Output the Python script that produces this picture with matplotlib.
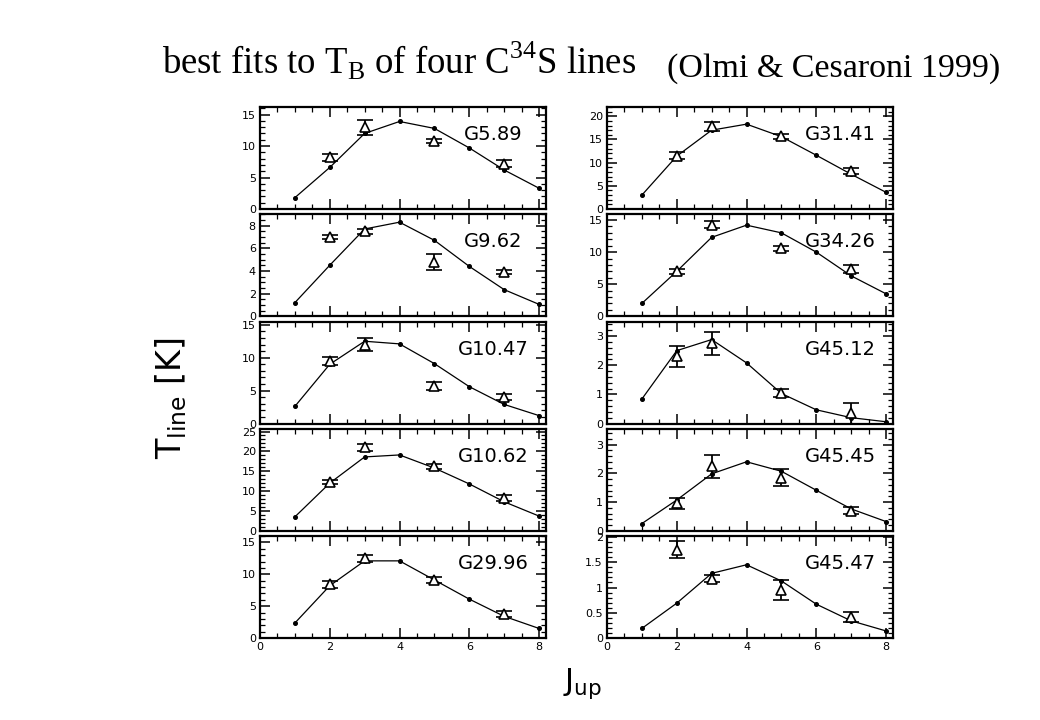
import matplotlib
matplotlib.use('Agg')
import matplotlib.pyplot as plt
from matplotlib.ticker import MultipleLocator, AutoMinorLocator, FormatStrFormatter

plt.rcParams['font.family'] = ['DejaVu Sans']
plt.rcParams['mathtext.fontset'] = 'custom'
plt.rcParams['mathtext.rm'] = 'Liberation Serif'
plt.rcParams['mathtext.sf'] = 'DejaVu Sans'

# J levels of the model curve and of the observed lines
j_model = [1, 2, 3, 4, 5, 6, 7, 8]
j_obs = [2, 3, 5, 7]

# left column top->bottom, then right column top->bottom
sources = ['G5.89', 'G9.62', 'G10.47', 'G10.62', 'G29.96',
           'G31.41', 'G34.26', 'G45.12', 'G45.45', 'G45.47']

t_model = [
    [1.8, 6.6, 12.0, 13.9, 12.8, 9.7, 6.2, 3.3],
    [1.2, 4.5, 7.7, 8.3, 6.7, 4.4, 2.35, 1.05],
    [2.6, 9.0, 12.5, 12.1, 9.1, 5.6, 2.9, 1.2],
    [3.5, 12.0, 18.6, 19.1, 15.8, 11.8, 7.3, 3.7],
    [2.35, 8.2, 12.1, 12.1, 9.1, 6.1, 3.4, 1.5],
    [3.0, 11.4, 17.0, 18.3, 15.6, 11.6, 7.5, 3.6],
    [2.0, 7.0, 12.3, 14.2, 13.0, 10.0, 6.3, 3.5],
    [0.84, 2.5, 2.88, 2.08, 1.03, 0.47, 0.2, 0.06],
    [0.25, 1.07, 1.98, 2.4, 2.07, 1.41, 0.76, 0.32],
    [0.19, 0.69, 1.28, 1.45, 1.13, 0.67, 0.34, 0.14],
]
t_obs = [
    [8.2, 13.0, 10.8, 7.2],
    [7.0, 7.5, 4.8, 3.9],
    [9.5, 12.0, 5.7, 4.0],
    [12.2, 21.0, 16.2, 8.2],
    [8.4, 12.5, 9.1, 3.8],
    [11.5, 17.8, 15.7, 8.2],
    [7.0, 14.3, 10.6, 7.4],
    [2.3, 2.75, 1.05, 0.35],
    [0.95, 2.25, 1.85, 0.7],
    [1.75, 1.17, 0.95, 0.42],
]
t_err = [
    [0.6, 1.2, 0.3, 0.6],
    [0.15, 0.2, 0.7, 0.2],
    [0.6, 1.0, 0.6, 0.5],
    [0.5, 0.8, 0.6, 0.7],
    [0.5, 0.5, 0.4, 0.5],
    [0.7, 1.0, 0.5, 0.7],
    [0.4, 0.5, 0.4, 0.6],
    [0.35, 0.4, 0.15, 0.37],
    [0.2, 0.4, 0.3, 0.12],
    [0.17, 0.07, 0.2, 0.1],
]
y_max = [16.2, 9.0, 15.5, 25.7, 16.0, 22.0, 15.9, 3.5, 3.55, 2.02]
y_step = [5, 2, 5, 5, 5, 5, 5, 1, 1, 0.5]
y_minor = [5, 4, 5, 5, 5, 5, 5, 5, 5, 5]

W, H = 1040, 720
fig = plt.figure(figsize=(W / 100, H / 100), dpi=100)

col_x = [260, 607]
col_w = 286
row_top0 = 107
row_h = 102
row_gap = 5.25

for k, name in enumerate(sources):
    col = k // 5
    row = k % 5
    top = row_top0 + row * (row_h + row_gap)
    ax = fig.add_axes([col_x[col] / W, 1 - (top + row_h) / H, col_w / W, row_h / H])

    ax.plot(j_model, t_model[k], '-', color='black', lw=0.9,
            marker='o', ms=2.6, zorder=2)
    ax.errorbar(j_obs, t_obs[k], yerr=t_err[k], fmt='^', mfc='white', mec='black',
                ms=7, mew=1.2, ecolor='black', elinewidth=1.3, capsize=6,
                capthick=1.7, zorder=3)

    ax.set_xlim(0, 8.2)
    ax.set_ylim(0, y_max[k])
    ax.xaxis.set_major_locator(MultipleLocator(2))
    ax.xaxis.set_minor_locator(MultipleLocator(0.5))
    ax.yaxis.set_major_locator(MultipleLocator(y_step[k]))
    ax.yaxis.set_minor_locator(AutoMinorLocator(y_minor[k]))
    ax.yaxis.set_major_formatter(FormatStrFormatter('%g'))
    ax.tick_params(which='both', direction='in', top=True, right=True,
                   labelsize=8, pad=3)
    ax.tick_params(which='major', length=7, width=1.1)
    ax.tick_params(which='minor', length=3.5, width=0.9)
    if row != 4:
        ax.tick_params(labelbottom=False)
    for s in ax.spines.values():
        s.set_linewidth(1.6)

    ax.text(0.815, 0.73, name, transform=ax.transAxes, ha='center', va='center',
            fontsize=14)

fig.text(162 / W, 1 - 74 / H, r'best fits to T$_{\mathrm{B}}$ of four C$^{\mathrm{34}}$S lines',
         family='Liberation Serif', fontsize=26.5, ha='left', va='baseline')
fig.text(667 / W, 1 - 77 / H, '(Olmi & Cesaroni 1999)',
         family='Liberation Serif', fontsize=24.5, ha='left', va='baseline')

fig.text(171 / W, 1 - 398 / H, r'T$_{\mathsf{line}}$ [K]', rotation=90,
         fontsize=24, ha='center', va='center')
fig.text(582 / W, 1 - 684 / H, r'J$_{\mathsf{up}}$', fontsize=22,
         ha='center', va='center')

fig.savefig('out.png', dpi=100)
